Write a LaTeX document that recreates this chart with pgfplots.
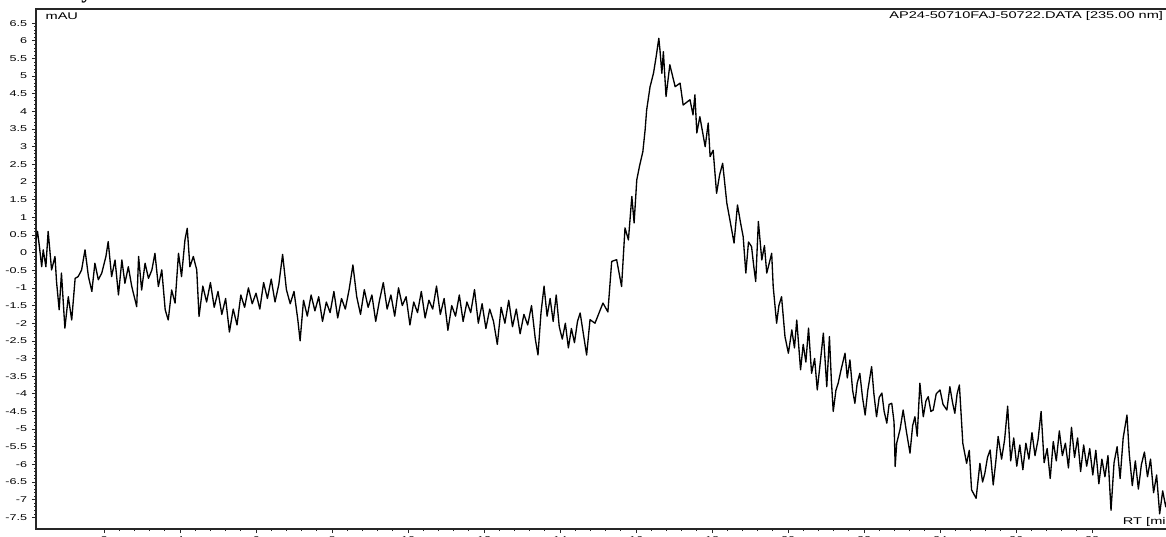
\documentclass[border=0pt]{standalone}
\usepackage{fontspec}
\usepackage{pgfplots}
\pgfplotsset{compat=1.18}
\setmainfont{Liberation Sans}
\newfontfamily\tickfont[FakeStretch=1.5]{Liberation Sans}
\newfontfamily\titlefont{Liberation Serif}

\pgfplotstableread{
t v
0.21 0.36
0.25 0.60
0.30 0.17
0.36 -0.40
0.40 0.08
0.47 -0.40
0.53 0.60
0.62 -0.49
0.71 -0.11
0.75 -0.82
0.82 -1.62
0.88 -0.58
0.97 -2.14
1.06 -1.25
1.15 -1.91
1.24 -0.73
1.32 -0.68
1.41 -0.49
1.50 0.08
1.59 -0.68
1.68 -1.10
1.76 -0.30
1.85 -0.77
1.94 -0.58
2.05 -0.11
2.11 0.31
2.20 -0.68
2.29 -0.21
2.38 -1.20
2.47 -0.21
2.55 -0.87
2.64 -0.40
2.73 -0.96
2.86 -1.53
2.91 -0.11
2.99 -1.06
3.08 -0.30
3.17 -0.73
3.26 -0.49
3.34 -0.02
3.43 -0.96
3.52 -0.49
3.61 -1.62
3.69 -1.91
3.78 -1.06
3.87 -1.43
3.96 -0.02
4.04 -0.68
4.13 0.36
4.19 0.69
4.26 -0.40
4.35 -0.11
4.44 -0.49
4.50 -1.81
4.60 -0.95
4.70 -1.40
4.80 -0.85
4.90 -1.55
5.00 -1.10
5.10 -1.75
5.20 -1.30
5.30 -2.25
5.40 -1.60
5.50 -2.05
5.60 -1.20
5.70 -1.55
5.80 -1.00
5.90 -1.45
6.00 -1.15
6.10 -1.60
6.20 -0.85
6.30 -1.30
6.40 -0.75
6.50 -1.40
6.60 -0.90
6.70 -0.05
6.80 -1.05
6.90 -1.45
7.00 -1.10
7.10 -1.90
7.16 -2.50
7.25 -1.35
7.35 -1.80
7.45 -1.20
7.55 -1.65
7.65 -1.25
7.75 -1.95
7.85 -1.40
7.95 -1.70
8.05 -1.10
8.15 -1.85
8.25 -1.30
8.35 -1.60
8.45 -1.05
8.55 -0.35
8.65 -1.25
8.75 -1.75
8.85 -1.05
8.95 -1.55
9.05 -1.20
9.15 -1.95
9.25 -1.35
9.35 -0.85
9.45 -1.60
9.55 -1.20
9.65 -1.80
9.75 -1.00
9.85 -1.50
9.95 -1.25
10.05 -2.05
10.15 -1.40
10.25 -1.70
10.35 -1.10
10.45 -1.85
10.55 -1.35
10.65 -1.60
10.75 -0.95
10.85 -1.75
10.95 -1.30
11.05 -2.20
11.15 -1.50
11.25 -1.80
11.35 -1.20
11.45 -1.95
11.55 -1.40
11.65 -1.70
11.75 -1.05
11.85 -2.00
11.95 -1.45
12.05 -2.15
12.15 -1.60
12.25 -1.95
12.35 -2.60
12.45 -1.55
12.55 -2.00
12.65 -1.35
12.75 -2.10
12.85 -1.60
12.95 -2.30
13.05 -1.75
13.15 -2.05
13.25 -1.50
13.35 -2.45
13.42 -2.90
13.50 -1.70
13.58 -0.95
13.66 -1.80
13.74 -1.30
13.82 -1.95
13.90 -1.20
13.98 -2.10
14.06 -2.45
14.14 -2.00
14.22 -2.70
14.30 -2.15
14.38 -2.55
14.46 -1.95
14.53 -1.71
14.70 -2.90
14.79 -1.90
14.92 -2.00
15.13 -1.43
15.26 -1.68
15.36 -0.25
15.49 -0.20
15.62 -0.96
15.71 0.70
15.80 0.36
15.89 1.59
15.95 0.84
16.02 2.06
16.09 2.44
16.18 2.86
16.24 3.48
16.28 4.04
16.37 4.70
16.46 5.08
16.53 5.55
16.60 6.07
16.63 5.74
16.68 5.08
16.72 5.69
16.79 4.42
16.89 5.32
17.03 4.70
17.16 4.80
17.24 4.18
17.42 4.33
17.50 3.90
17.55 4.47
17.60 3.39
17.68 3.85
17.82 3.00
17.90 3.67
17.95 2.72
18.03 2.90
18.12 1.68
18.20 2.20
18.28 2.53
18.39 1.40
18.47 0.93
18.58 0.27
18.67 1.35
18.75 0.85
18.82 0.45
18.89 -0.58
18.96 0.30
19.04 0.17
19.10 -0.40
19.15 -0.82
19.22 0.88
19.31 -0.21
19.38 0.20
19.44 -0.58
19.57 -0.02
19.61 -0.96
19.70 -2.00
19.76 -1.50
19.83 -1.25
19.92 -2.38
20.01 -2.85
20.10 -2.19
20.17 -2.70
20.23 -1.91
20.33 -3.32
20.40 -2.60
20.47 -3.10
20.54 -2.14
20.62 -3.42
20.70 -3.00
20.77 -3.89
20.85 -3.10
20.93 -2.28
21.02 -3.80
21.09 -2.38
21.14 -3.60
21.19 -4.50
21.26 -3.90
21.32 -3.70
21.40 -3.30
21.50 -2.85
21.56 -3.55
21.63 -3.04
21.70 -3.90
21.76 -4.27
21.82 -3.70
21.89 -3.42
21.96 -4.10
22.03 -4.60
22.10 -3.90
22.20 -3.23
22.26 -4.00
22.33 -4.65
22.40 -4.10
22.47 -3.98
22.53 -4.50
22.60 -4.83
22.66 -4.30
22.73 -4.27
22.79 -4.80
22.82 -6.06
22.86 -5.40
22.95 -5.00
23.03 -4.46
23.12 -5.10
23.21 -5.68
23.28 -4.90
23.34 -4.65
23.40 -5.20
23.47 -3.70
23.56 -4.65
23.63 -4.20
23.69 -4.08
23.76 -4.50
23.82 -4.46
23.90 -4.00
24.00 -3.89
24.08 -4.30
24.18 -4.46
24.26 -3.80
24.33 -4.25
24.39 -4.55
24.45 -4.00
24.51 -3.75
24.60 -5.40
24.70 -5.97
24.77 -5.60
24.83 -6.72
24.95 -6.96
25.05 -5.97
25.12 -6.50
25.18 -6.25
25.25 -5.80
25.32 -5.59
25.40 -6.58
25.47 -5.90
25.53 -5.21
25.62 -5.85
25.70 -5.30
25.78 -4.35
25.86 -5.90
25.94 -5.25
26.02 -6.05
26.10 -5.45
26.18 -6.15
26.26 -5.40
26.34 -5.85
26.42 -5.10
26.50 -5.75
26.58 -5.30
26.66 -4.50
26.74 -5.95
26.82 -5.55
26.90 -6.40
26.98 -5.35
27.06 -5.90
27.14 -5.05
27.22 -5.75
27.30 -5.40
27.38 -6.10
27.46 -4.95
27.54 -5.80
27.62 -5.25
27.70 -6.20
27.78 -5.45
27.86 -6.05
27.94 -5.55
28.02 -6.30
28.10 -5.60
28.18 -6.55
28.26 -5.85
28.34 -6.35
28.42 -5.75
28.50 -7.30
28.58 -5.95
28.66 -5.50
28.74 -6.40
28.82 -5.25
28.92 -4.60
28.98 -5.70
29.06 -6.60
29.14 -5.90
29.22 -6.70
29.30 -6.00
29.38 -5.65
29.46 -6.35
29.54 -5.85
29.62 -6.80
29.70 -6.30
29.78 -7.40
29.86 -6.75
29.94 -7.20
30.00 -6.90
}\chrom

\begin{document}
\begin{tikzpicture}
\begin{axis}[
  name=ax,
  scale only axis,
  width=849pt, height=390pt,
  xmin=0.21, xmax=30,
  ymin=-7.83, ymax=6.9,
  axis line style={line width=0.8pt, black!85},
  tick align=outside,
  tick style={line width=0.5pt, black!85},
  major tick length=3pt,
  minor tick length=1.5pt,
  xtick pos=bottom, ytick pos=left,
  xtick={2,4,...,28},
  xticklabels={2,4,6,8,10,12,14,16,18,20,22,24,26,28},
  minor x tick num=4,
  ytick={-7.5,-7,-6.5,-6,-5.5,-5,-4.5,-4,-3.5,-3,-2.5,-2,-1.5,-1,-0.5,0,0.5,1,1.5,2,2.5,3,3.5,4,4.5,5,5.5,6,6.5},
  yticklabels={-7.5,-7,-6.5,-6,-5.5,-5,-4.5,-4,-3.5,-3,-2.5,-2,-1.5,-1,-0.5,0,0.5,1,1.5,2,2.5,3,3.5,4,4.5,5,5.5,6,6.5},
  minor y tick num=4,
  ticklabel style={font=\tickfont\fontsize{6.3}{7}\selectfont, inner sep=0pt},
  yticklabel style={anchor=east, xshift=-3.4pt},
  xticklabel style={anchor=north, yshift=-2.5pt},
]
\addplot[black, line width=1pt, line join=round, mark=none] table[x=t, y=v] {\chrom};
\end{axis}
\node[anchor=west, inner sep=0pt, font=\tickfont\fontsize{7.3}{8}\selectfont]
  at ([xshift=7pt, yshift=-5.6pt]ax.north west) {mAU};
\node[anchor=east, inner sep=0pt, font=\tickfont\fontsize{7.3}{8}\selectfont]
  at ([xshift=-3.5pt, yshift=-5.6pt]ax.north east) {AP24-50710FAJ-50722.DATA [235.00 nm]};
\node[anchor=west, inner sep=0pt, font=\tickfont\fontsize{7.3}{8}\selectfont]
  at ([xshift=-34pt, yshift=5.25pt]ax.south east) {RT [min]};
\node[anchor=base, inner sep=0pt, font=\titlefont\bfseries\fontsize{16}{16}\selectfont]
  at ([xshift=38pt, yshift=7.9pt]ax.north west) {y};
\pgfresetboundingbox
\path ([xshift=-27pt, yshift=-5.25pt]ax.south west) rectangle ([xshift=-1.5pt, yshift=6.75pt]ax.north east);
\end{tikzpicture}
\end{document}
